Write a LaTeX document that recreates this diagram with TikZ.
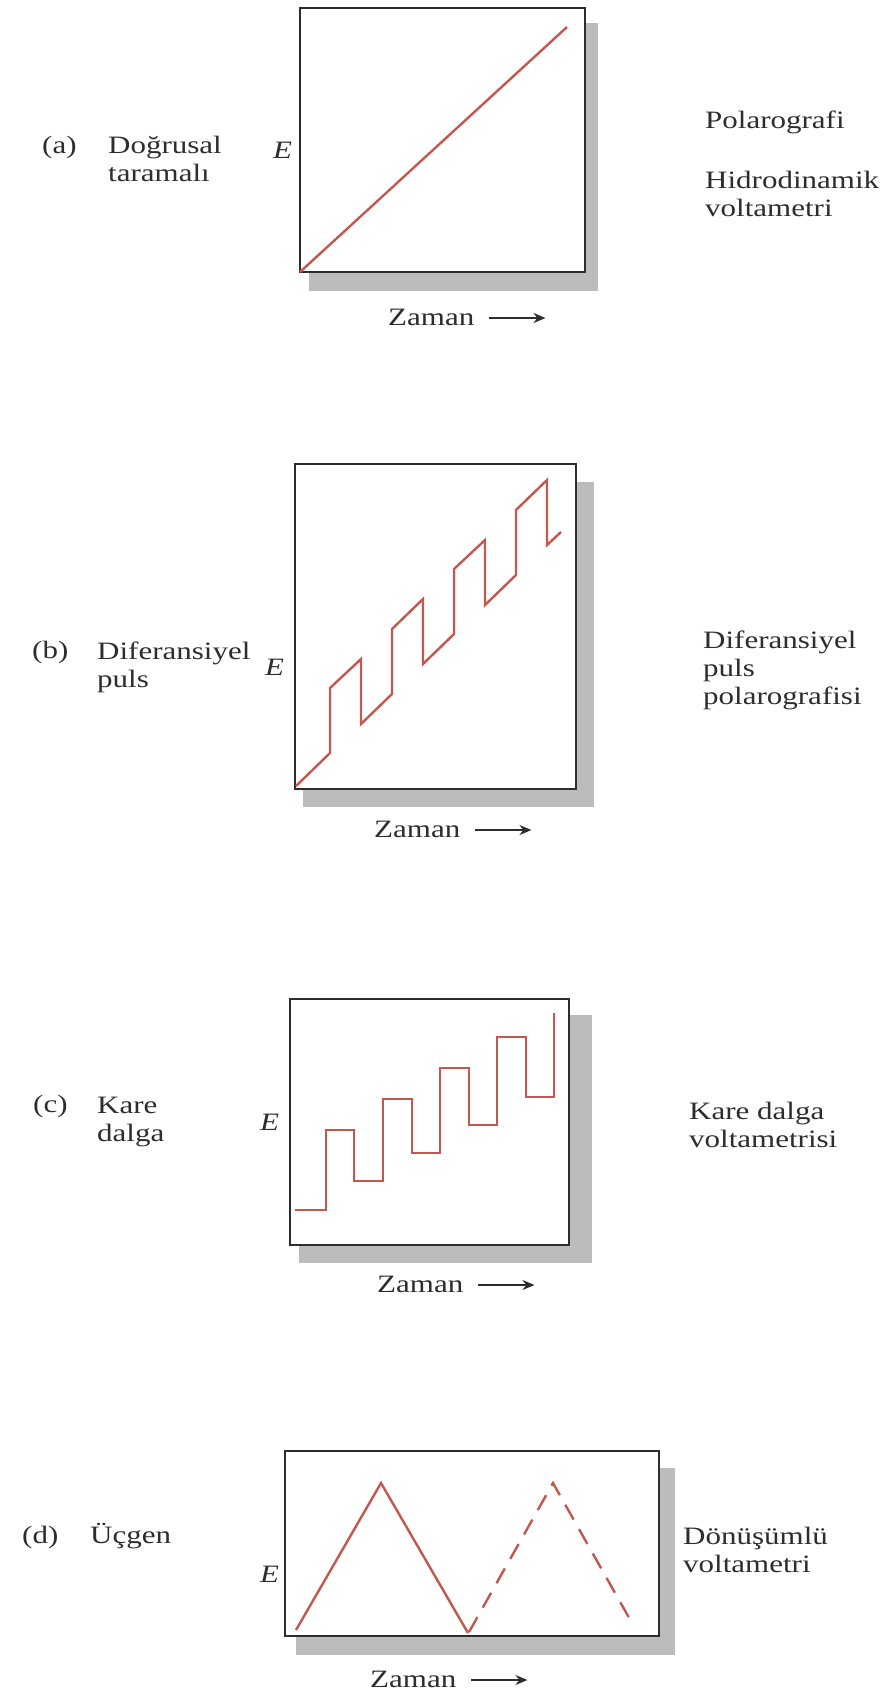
\documentclass[tikz,border=0pt]{standalone}
\usepackage{fontspec}
\setmainfont{Liberation Serif}[FakeStretch=1.24]
\usetikzlibrary{arrows.meta}
\definecolor{trace}{RGB}{196,88,78}
\definecolor{shade}{RGB}{188,188,188}
\definecolor{ink}{RGB}{45,45,45}

\begin{document}
\begin{tikzpicture}[x=1pt,y=-1pt,
    lbl/.style={anchor=base west, inner sep=0pt, align=left,
        font=\fontsize{25}{28}\selectfont, text=ink},
    frame/.style={draw=ink, line width=1.3pt, fill=white},
    shadow/.style={fill=shade},
    wave/.style={draw=trace, line width=2.4pt},
    tarrow/.style={draw=ink, line width=1.8pt, -{Stealth[length=12pt,width=10pt]}}]
    \fill[white] (0,0) rectangle (889,1695);
    \useasboundingbox (0,0) rectangle (889,1695);

    % (a) linear sweep
    \fill[shadow] (309,23) rectangle (598,291);
    \draw[frame] (300,8) rectangle (585,272);
    \draw[wave] (300,272) -- (567,27);
    \node[lbl] (tagA) at (42,153) {(a)};
    \node[lbl] (nameA) at (108,181) {Doğrusal\\taramalı};
    \node[lbl] (eA) at (273,158) {\textit{E}};
    \node[lbl] (techA1) at (705,128) {Polarografi};
    \node[lbl] (techA2) at (705,216) {Hidrodinamik\\voltametri};
    \node[lbl] (zamA) at (388,325) {Zaman};
    \draw[tarrow] ([xshift=15pt,yshift=7pt]zamA.base east) -- ++(56,0);

    % (b) differential pulse
    \fill[shadow] (303,482) rectangle (594,807);
    \draw[frame] (295,464) rectangle (576,789);
    \draw[wave] (296,786) -- (330,753) -- (330,688) -- (361,659) -- (361,724)
        -- (392,694) -- (392,629) -- (423,599) -- (423,664) -- (454,634)
        -- (454,569) -- (485,540) -- (485,605) -- (516,575) -- (516,510)
        -- (547,480) -- (547,545) -- (561,532);
    \node[lbl] (tagB) at (32,658) {(b)};
    \node[lbl] (nameB) at (97,687) {Diferansiyel\\puls};
    \node[lbl] (eB) at (265,675) {\textit{E}};
    \node[lbl] (techB) at (703,704) {Diferansiyel\\puls\\polarografisi};
    \node[lbl] (zamB) at (374,837) {Zaman};
    \draw[tarrow] ([xshift=15pt,yshift=7pt]zamB.base east) -- ++(56,0);

    % (c) square wave
    \fill[shadow] (299,1015) rectangle (592,1263);
    \draw[frame] (290,999) rectangle (569,1245);
    \draw[wave] (295,1210) -- (326,1210) -- (326,1130) -- (354,1130) -- (354,1181)
        -- (383,1181) -- (383,1099) -- (412,1099) -- (412,1153) -- (440,1153)
        -- (440,1068) -- (469,1068) -- (469,1125) -- (497,1125) -- (497,1037)
        -- (526,1037) -- (526,1097) -- (554,1097) -- (554,1013);
    \node[lbl] (tagC) at (33,1112) {(c)};
    \node[lbl] (nameC) at (97,1141) {Kare\\dalga};
    \node[lbl] (eC) at (260,1130) {\textit{E}};
    \node[lbl] (techC) at (689,1147) {Kare dalga\\voltametrisi};
    \node[lbl] (zamC) at (377,1292) {Zaman};
    \draw[tarrow] ([xshift=15pt,yshift=7pt]zamC.base east) -- ++(56,0);

    % (d) triangular
    \fill[shadow] (296,1468) rectangle (675,1655);
    \draw[frame] (285,1451) rectangle (659,1636);
    \draw[wave] (296,1630) -- (381,1483) -- (468,1633);
    \draw[wave, dash pattern=on 17pt off 11pt] (469,1632) -- (553,1483) -- (632,1623);
    \node[lbl] (tagD) at (22,1543) {(d)};
    \node[lbl] (nameD) at (90,1543) {Üçgen};
    \node[lbl] (eD) at (260,1582) {\textit{E}};
    \node[lbl] (techD) at (683,1572) {Dönüşümlü\\voltametri};
    \node[lbl] (zamD) at (370,1687) {Zaman};
    \draw[tarrow] ([xshift=15pt,yshift=7pt]zamD.base east) -- ++(56,0);
\end{tikzpicture}
\end{document}
